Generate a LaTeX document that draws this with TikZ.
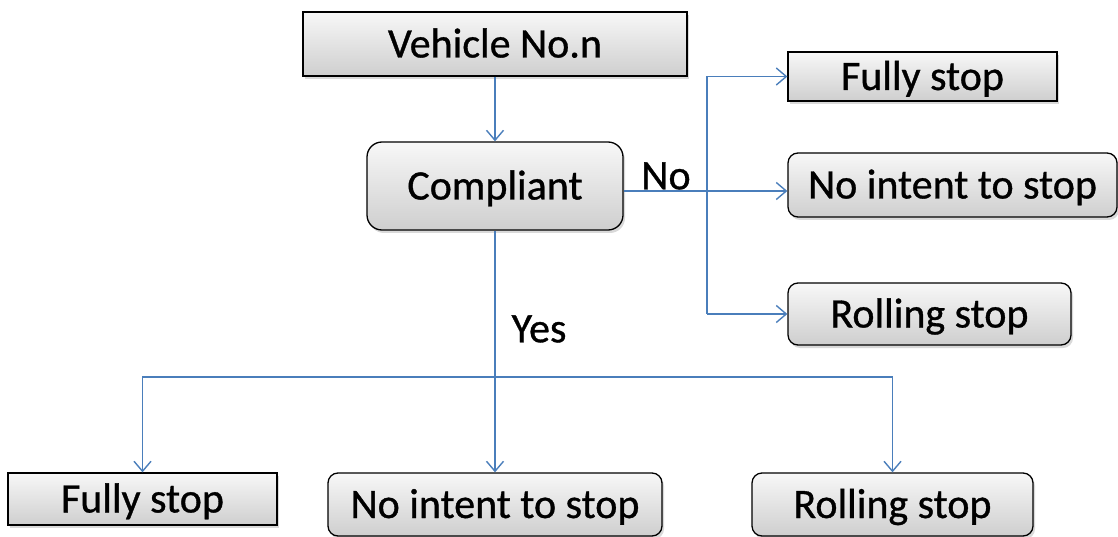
\documentclass[tikz,border=0pt]{standalone}
\usepackage{fontspec}
\setmainfont{Carlito}[FakeBold=0.8]
\usepackage{tikz}
\usetikzlibrary{arrows.meta,shadows,positioning}

\definecolor{linkblue}{HTML}{4A7EBB}

\begin{document}
\begin{tikzpicture}[x=1pt,y=-1pt,
        font=\fontsize{42}{50}\selectfont,
        box/.style={draw=black,line width=1.3pt,top color=gray!6,bottom color=gray!38,
          drop shadow={opacity=0.3,shadow xshift=2pt,shadow yshift=-3pt},
          inner sep=0pt,text height=27pt,text depth=0pt},
        sqbox/.style={box},
        rndbox/.style={box,rounded corners=10pt},
        link/.style={draw=linkblue,line width=1.4pt},
        arr/.style={link,->,>={Straight Barb[length=10pt,width=17pt]}}]

        \useasboundingbox (0,0) rectangle (1118,537);

        \node[sqbox,minimum width=384pt,minimum height=64pt] (veh) at (495,44) {Vehicle No.n};
        \node[rndbox,minimum width=256pt,minimum height=88pt,rounded corners=15pt] (cmp) at (495,186) {Compliant};

        \node[sqbox,minimum width=269pt,minimum height=49pt] (rfull) at (922.5,76.5) {Fully stop};
        \node[rndbox,minimum width=329pt,minimum height=64pt] (rint) at (952.5,185) {No intent to stop};
        \node[rndbox,minimum width=283pt,minimum height=62pt] (rroll) at (929.5,314) {Rolling stop};

        \node[sqbox,minimum width=269pt,minimum height=52pt] (bfull) at (142.5,499) {Fully stop};
        \node[rndbox,minimum width=334pt,minimum height=63pt] (bint) at (495,504.5) {No intent to stop};
        \node[rndbox,minimum width=281pt,minimum height=63pt] (broll) at (892.5,504.5) {Rolling stop};

        \coordinate (nj) at (707,191);
        \coordinate (yj) at (495,377);

        \draw[arr] (veh) -- (cmp);

        % no branch
        \draw[link] (cmp.east |- nj) -- (nj);
        \draw[arr] (nj |- rfull.west) -- (rfull.west);
        \draw[arr] (nj) -- (rint.west |- nj);
        \draw[arr] (nj |- rroll.west) -- (rroll.west);
        \draw[link] (nj |- rfull.west) -- (nj |- rroll.west);
        \node (nolbl) at (666,176) {No};

        % yes branch
        \draw[link] (cmp) -- (yj);
        \draw[arr] (yj) -| (bfull.north);
        \draw[arr] (yj) -- (bint);
        \draw[arr] (yj) -| (broll.north);
        \node (yeslbl) at (539,329) {Yes};
      \end{tikzpicture}
\end{document}
